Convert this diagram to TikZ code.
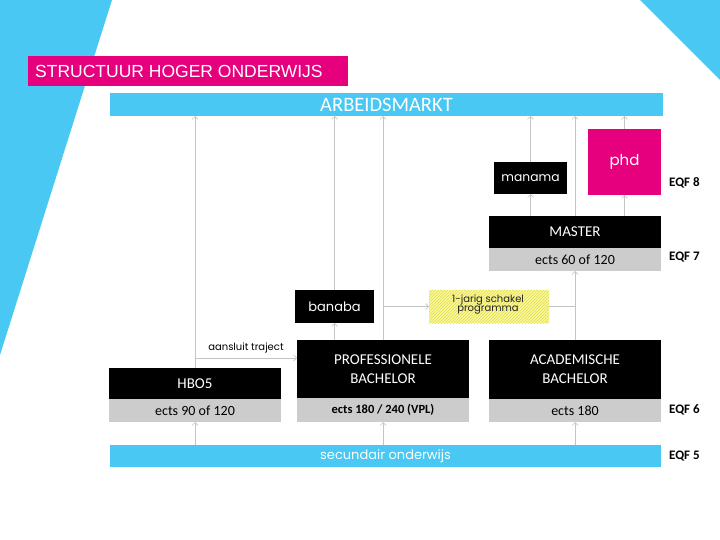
\documentclass[tikz,border=0pt]{standalone}
\usepackage{fontspec}
\setmainfont{Carlito}
\newfontfamily\gothic{Poppins}
\newfontfamily\arialf{Liberation Sans}
\usetikzlibrary{arrows.meta,patterns}
\definecolor{skyb}{RGB}{72,200,242}
\definecolor{magen}{RGB}{230,0,126}
\definecolor{greybox}{RGB}{204,204,204}
\definecolor{connc}{RGB}{196,196,196}
\definecolor{yelb}{RGB}{250,246,160}
\definecolor{yell}{RGB}{226,222,70}
\tikzset{
  box/.style={rectangle, anchor=north west, inner sep=0pt, outer sep=0pt},
  blackbox/.style={box, fill=black, text=white},
  greyrow/.style={box, fill=greybox, text=black},
  conn/.style={draw=connc, line width=0.6pt, -{Straight Barb[length=3pt,width=6pt]}},
  plain/.style={draw=connc, line width=0.6pt},
  eqf/.style={anchor=west, font=\fontsize{13}{15}\selectfont\bfseries, inner sep=0pt}
}
\begin{document}
\begin{tikzpicture}[x=1pt,y=-1pt]
\useasboundingbox (0,0) rectangle (720,540);
% decorative background shapes
\fill[skyb] (0,0) -- (112,0) -- (0,355) -- cycle;
\fill[skyb] (640,0) -- (720,0) -- (720,80) -- cycle;
% title
\node[box, fill=magen, minimum width=320pt, minimum height=30pt] (title) at (28,56) {};
\node[anchor=west, text=white, inner sep=0pt, font=\arialf\fontsize{17.5}{19}\selectfont] (titletxt) at (35,71.5) {STRUCTUUR HOGER ONDERWIJS};
% bars
\node[box, fill=skyb, text=white, minimum width=553pt, minimum height=23pt, font=\fontsize{20.5}{22}\selectfont] (arbeid) at (110,93) {ARBEIDSMARKT};
\node[box, fill=skyb, text=white, minimum width=551pt, minimum height=22pt, font=\gothic\fontsize{13}{15}\selectfont] (sec) at (110,445) {secundair onderwijs};
% top level
\node[blackbox, minimum width=73pt, minimum height=32pt, font=\gothic\fontsize{12.3}{14}\selectfont] (manama) at (494,162) {manama};
\node[box, fill=magen, text=white, minimum width=73pt, minimum height=66pt, font=\gothic\fontsize{15}{17}\selectfont] (phd) at (588,129) {phd};
% master
\node[blackbox, minimum width=172pt, minimum height=32pt, font=\fontsize{15}{17}\selectfont] (master) at (489,216) {MASTER};
\node[greyrow, minimum width=172pt, minimum height=23pt, font=\fontsize{14}{16}\selectfont] (masterg) at (489,248) {ects 60 of 120};
% banaba and schakel
\node[blackbox, minimum width=79pt, minimum height=33pt, font=\gothic\fontsize{13}{15}\selectfont] (banaba) at (295,290) {banaba};
\node[box, fill=yelb, minimum width=120pt, minimum height=33pt] (schakel) at (429,290) {};
\fill[pattern=north east lines, pattern color=yell] (schakel.north west) rectangle (schakel.south east);
\node[align=center, inner sep=0pt, text=black!85, font=\gothic\fontsize{10}{9}\selectfont] (schakeltxt) at (488,305) {1-jarig schakel\\programma};
% bachelors
\node[blackbox, minimum width=172pt, minimum height=31pt, font=\fontsize{15}{17}\selectfont] (hbo) at (109,368) {HBO5};
\node[greyrow, minimum width=172pt, minimum height=23pt, font=\fontsize{14}{16}\selectfont] (hbog) at (109,399) {ects 90 of 120};
\node[blackbox, minimum width=172pt, minimum height=58pt, align=center, font=\fontsize{15}{19}\selectfont] (pb) at (297,340) {PROFESSIONELE\\BACHELOR};
\node[greyrow, minimum width=172pt, minimum height=24pt, font=\fontsize{12.5}{14}\selectfont\bfseries] (pbg) at (297,398) {ects 180 / 240 (VPL)};
\node[blackbox, minimum width=172pt, minimum height=59pt, align=center, font=\fontsize{15}{19}\selectfont] (ab) at (489,340) {ACADEMISCHE\\BACHELOR};
\node[greyrow, minimum width=172pt, minimum height=23pt, font=\fontsize{14}{16}\selectfont] (abg) at (489,399) {ects 180};
% EQF labels
\node[eqf] (eqf8) at (669,183) {EQF 8};
\node[eqf] (eqf7) at (669,257) {EQF 7};
\node[eqf] (eqf6) at (669,410) {EQF 6};
\node[eqf] (eqf5) at (669,456) {EQF 5};
% connectors: HBO5
\draw[conn] (sec.north -| hbog.south) -- (hbog.south);
\draw[conn] (hbo.north) -- (hbo.north |- arbeid.south);
\coordinate (aans) at (hbo.north |- 0,358);
\draw[conn] (aans) -- (aans -| pb.west) node[midway, above=1pt, text=black, font=\gothic\fontsize{10}{12}\selectfont] (aanstxt) {aansluit traject};
% PB
\draw[conn] (sec.north -| pbg.south) -- (pbg.south);
\draw[conn] (pb.north) -- (pb.north |- arbeid.south);
\draw[conn] (pb.north -| banaba.south) -- (banaba.south);
\draw[conn] (banaba.north) -- (banaba.north |- arbeid.south);
\coordinate (sch) at (pb.north |- schakel.west);
\draw[conn] (sch) -- (schakel.west);
% AB
\draw[conn] (sec.north -| abg.south) -- (abg.south);
\draw[conn] (ab.north) -- (masterg.south);
\draw[plain] (schakel.east) -- (schakel.east -| ab.north);
% master
\draw[conn] (master.north -| manama.south) -- (manama.south);
\draw[conn] (manama.north) -- (manama.north |- arbeid.south);
\draw[conn] (master.north) -- (master.north |- arbeid.south);
\draw[conn] (master.north -| phd.south) -- (phd.south);
\draw[conn] (phd.north) -- (phd.north |- arbeid.south);
\end{tikzpicture}
\end{document}
